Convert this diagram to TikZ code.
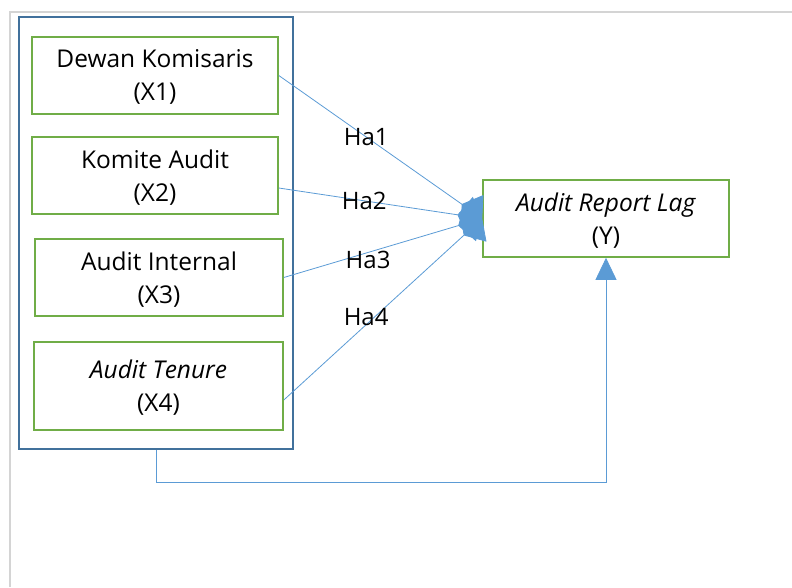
\documentclass[tikz,border=0pt]{standalone}
\usepackage{fontspec}
\setmainfont{Open Sans}
\usetikzlibrary{arrows.meta}

\definecolor{boxgreen}{HTML}{70AD47}
\definecolor{lineblue}{HTML}{5B9BD5}
\definecolor{frameblue}{HTML}{41719C}
\definecolor{pagegray}{HTML}{D4D4D4}

\tikzset{
	varbox/.style={draw=boxgreen, line width=1.6pt, rectangle, align=center,
		minimum width=246pt, minimum height=77pt, inner sep=0pt, text depth=-2pt,
		font=\fontsize{24.5}{33}\selectfont},
	hyp/.style={draw=lineblue, line width=0.8pt, -{Diamond[length=25pt, width=40pt]}},
	hyplabel/.style={font=\fontsize{24}{26}\selectfont, inner sep=0pt}
}

\begin{document}
\begin{tikzpicture}[x=1pt, y=-1pt]
	\useasboundingbox (0,0) rectangle (792,587);
	% page edge
	\draw[pagegray, line width=1.5pt] (10,587) -- (10,12) -- (792,12);

	% Define the nodes with specific positions
	\node[draw=frameblue, line width=1.6pt, minimum width=274pt, minimum height=432pt] (grp) at (156, 233) {};

	\node[varbox] (X1) at (155, 75.5) {Dewan Komisaris\\(X1)};
	\node[varbox] (X2) at (155, 175.5) {Komite Audit\\(X2)};
	\node[varbox, minimum width=248pt] (X3) at (159, 277.5) {Audit Internal\\(X3)};
	\node[varbox, minimum width=249pt, minimum height=88pt] (X4) at (158.5, 386) {\textit{Audit Tenure}\\(X4)};

	\node[varbox] (Y) at (606, 218.5) {\textit{Audit Report Lag}\\(Y)};

	% Draw the edges between nodes with labels
	\draw[hyp] (X1.east) -- node[hyplabel, pos=0.43] {Ha1} (Y.west);
	\draw[hyp] ([yshift=-12.5pt]X2.east) -- node[hyplabel, pos=0.42] {Ha2} (Y.west);
	\draw[hyp] (X3.east) -- node[hyplabel, pos=0.425, yshift=-7pt] {Ha3} (Y.west);
	\draw[hyp] ([yshift=-14pt]X4.east) -- node[hyplabel, pos=0.415, yshift=8pt] {Ha4} (Y.west);

	\draw[draw=lineblue, line width=0.8pt, -{Triangle[length=22pt, width=21pt]}] (grp.south) -- ++(0,33) -| (Y.south);
\end{tikzpicture}
\end{document}
